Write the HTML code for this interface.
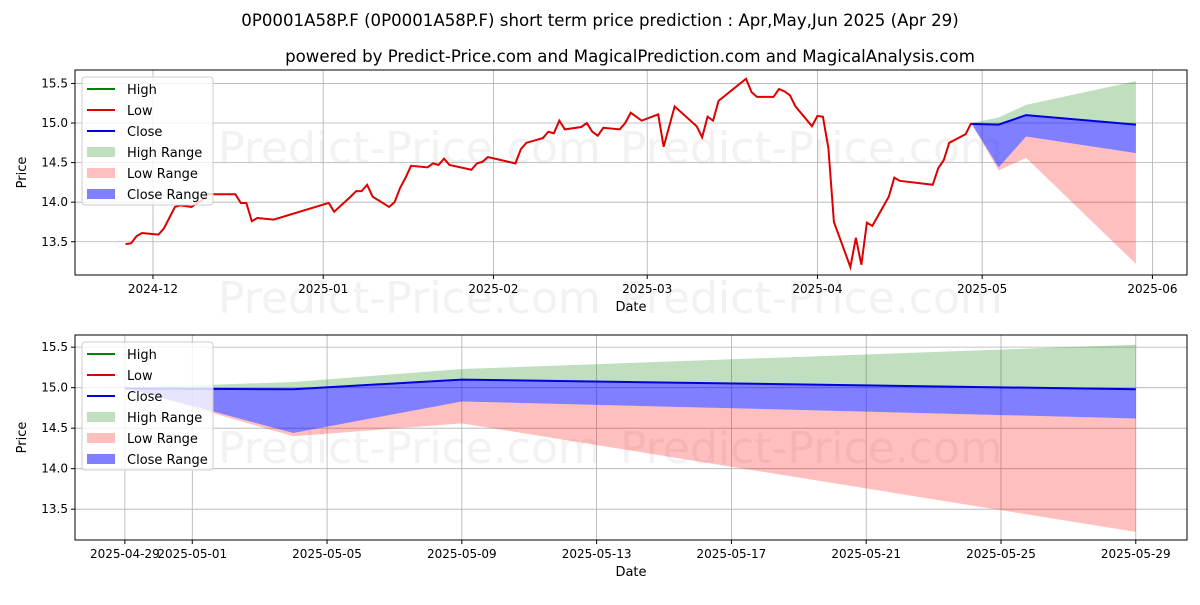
<!DOCTYPE html>
<html><head><meta charset="utf-8"><style>
body{margin:0;background:#fff;}
svg text{font-family:"DejaVu Sans","Liberation Sans",sans-serif;}
</style></head><body>
<svg id="c" width="1200" height="600" xmlns="http://www.w3.org/2000/svg">
<text x="600" y="26" text-anchor="middle" font-size="16.6">0P0001A58P.F (0P0001A58P.F) short term price prediction : Apr,May,Jun 2025 (Apr 29)</text>
<text x="630" y="62" text-anchor="middle" font-size="16.6">powered by Predict-Price.com and MagicalPrediction.com and MagicalAnalysis.com</text>
</svg>
<script>
// historical data: day offsets from 2024-12-01 and values
const histDays=[-5,-4,-3,-2,1,2,4,5,7,9,10,12,15,16,17,18,19,22,32,33,36,37,38,39,40,43,44,45,46,47,50,51,52,53,54,58,59,60,61,66,67,68,71,72,73,74,75,78,79,80,81,82,85,86,87,89,92,93,95,99,100,101,102,103,108,109,110,113,114,115,116,117,120,121,122,123,124,127,128,129,130,131,134,135,136,142,143,144,145,148,149];
const histVals=[13.47,13.48,13.57,13.61,13.59,13.67,13.94,13.96,13.94,14.03,14.10,14.10,14.10,13.99,13.99,13.76,13.80,13.78,13.99,13.88,14.07,14.14,14.14,14.22,14.07,13.94,14.00,14.18,14.31,14.46,14.44,14.49,14.47,14.55,14.47,14.41,14.49,14.51,14.57,14.49,14.67,14.75,14.81,14.89,14.87,15.03,14.92,14.95,15.00,14.89,14.84,14.94,14.92,15.00,15.13,15.03,15.11,14.70,15.21,14.96,14.82,15.08,15.03,15.28,15.56,15.39,15.33,15.33,15.43,15.40,15.35,15.21,14.96,15.09,15.08,14.68,13.75,13.18,13.55,13.21,13.74,13.70,14.07,14.31,14.27,14.22,14.43,14.53,14.75,14.86,15.00];
// forecast
const fcDays=[149,154,159,179];
const fcClose=[14.99,14.98,15.10,14.98];
const fcHigh=[15.00,15.07,15.23,15.53];
const fcCloseLow=[15.00,14.44,14.83,14.62];
const fcLow=[15.00,14.40,14.56,13.22];
const topMonths=["2024-12","2025-01","2025-02","2025-03","2025-04","2025-05","2025-06"];
const topMonthDays=[0,31,62,90,121,151,182];
const bottomTickDays=[149,151,155,159,163,167,171,175,179];
const bottomTickLabels=["2025-04-29","2025-05-01","2025-05-05","2025-05-09","2025-05-13","2025-05-17","2025-05-21","2025-05-25","2025-05-29"];
const yTicks=[13.5,14.0,14.5,15.0,15.5];

const NS="http://www.w3.org/2000/svg";
const svg=document.getElementById('c');
function mk(t,a,p){const e=document.createElementNS(NS,t);for(const k in a)e.setAttribute(k,a[k]);(p||svg).appendChild(e);return e;}
const defs=mk('defs',{});

function panel(id,box,xd,yd,drawHist,xticks,xlabels,wm){
  const [L,T,R,B]=box;
  const sx=d=>L+(d-xd[0])/(xd[1]-xd[0])*(R-L);
  const sy=v=>B-(v-yd[0])/(yd[1]-yd[0])*(B-T);
  const cp=mk('clipPath',{id:'clip'+id},defs);mk('rect',{x:L,y:T,width:R-L,height:B-T},cp);
  const g=mk('g',{});
  
  
  wm.forEach(p=>{const t=mk('text',{x:p[0],y:p[1],'font-size':44,fill:'#f2f2f2'},g);t.textContent='Predict-Price.com';
    
    });
  xticks.forEach((d,i)=>{const x=sx(d);mk('line',{x1:x,x2:x,y1:T,y2:B,stroke:'#b0b0b0','stroke-width':0.8},g);
    mk('line',{x1:x,x2:x,y1:B,y2:B+4,stroke:'#000'},g);
    const t=mk('text',{x:x,y:B+18,'font-size':12,'text-anchor':'middle'},g);t.textContent=xlabels[i];
    
    });
  yTicks.forEach(v=>{const y=sy(v);mk('line',{x1:L,x2:R,y1:y,y2:y,stroke:'#b0b0b0','stroke-width':0.8},g);
    mk('line',{x1:L-4,x2:L,y1:y,y2:y,stroke:'#000'},g);
    const t=mk('text',{x:L-7,y:y+4,'font-size':12,'text-anchor':'end'},g);t.textContent=v.toFixed(1);
    
    });
  const pg=mk('g',{'clip-path':'url(#clip'+id+')'},g);
  function band(lo,hi,col,op,name){
    let d='M'+fcDays.map((dd,i)=>sx(dd)+','+sy(hi[i])).join('L');
    for(let i=fcDays.length-1;i>=0;i--)d+='L'+sx(fcDays[i])+','+sy(lo[i]);
    const p=mk('path',{d:d+'Z',fill:col,'fill-opacity':op},pg);
    
    
  }
  band(fcClose,fcHigh,'#008000',0.25,'high-range-band');
  band(fcLow,fcCloseLow,'#ff0000',0.25,'low-range-band');
  band(fcCloseLow,fcClose,'#0000ff',0.5,'close-range-band');
  if(drawHist){const p=mk('polyline',{points:histDays.map((d,i)=>sx(d)+','+sy(histVals[i])).join(' '),fill:'none',stroke:'#dd0000','stroke-width':2},pg);
    
    }
  const cl=mk('polyline',{points:fcDays.map((d,i)=>sx(d)+','+sy(fcClose[i])).join(' '),fill:'none',stroke:'#0000dd','stroke-width':2},pg);
  
  
  mk('rect',{x:L,y:T,width:R-L,height:B-T,fill:'none',stroke:'#000','stroke-width':1},g);
  const xl=mk('text',{x:(L+R)/2,y:B+36,'font-size':13,'text-anchor':'middle'},g);xl.textContent='Date';
  
  
  const yl=mk('text',{x:0,y:0,'font-size':13,'text-anchor':'middle',transform:'translate(26,'+((T+B)/2)+') rotate(-90)'},g);yl.textContent='Price';
  
  
  const lg=mk('g',{},g);
  
  
  mk('rect',{x:L+7,y:T+7,width:131,height:128,rx:3,fill:'#fff','fill-opacity':0.8,stroke:'#ccc'},lg);
  const items=[['High','line','#008000'],['Low','line','#dd0000'],['Close','line','#0000dd'],['High Range','box','rgba(0,128,0,0.25)'],['Low Range','box','rgba(255,0,0,0.25)'],['Close Range','box','rgba(0,0,255,0.5)']];
  items.forEach((it,i)=>{const y=T+19+i*21;
    if(it[1]=='line')mk('line',{x1:L+12,x2:L+40,y1:y,y2:y,stroke:it[2],'stroke-width':2},lg);
    else mk('rect',{x:L+12,y:y-5,width:28,height:10,fill:it[2]},lg);
    const t=mk('text',{x:L+52,y:y+5,'font-size':13},lg);t.textContent=it[0];
    
    });
}
panel('top',[75,70,1187,275],[-14.2,188.3],[13.08,15.67],true,topMonthDays,topMonths,[[218,163],[620,163],[218,313],[620,313]]);
panel('bottom',[75,335,1187,540],[147.52,180.52],[13.12,15.65],false,bottomTickDays,bottomTickLabels,[[218,463],[620,463]]);
</script>
</body></html>
